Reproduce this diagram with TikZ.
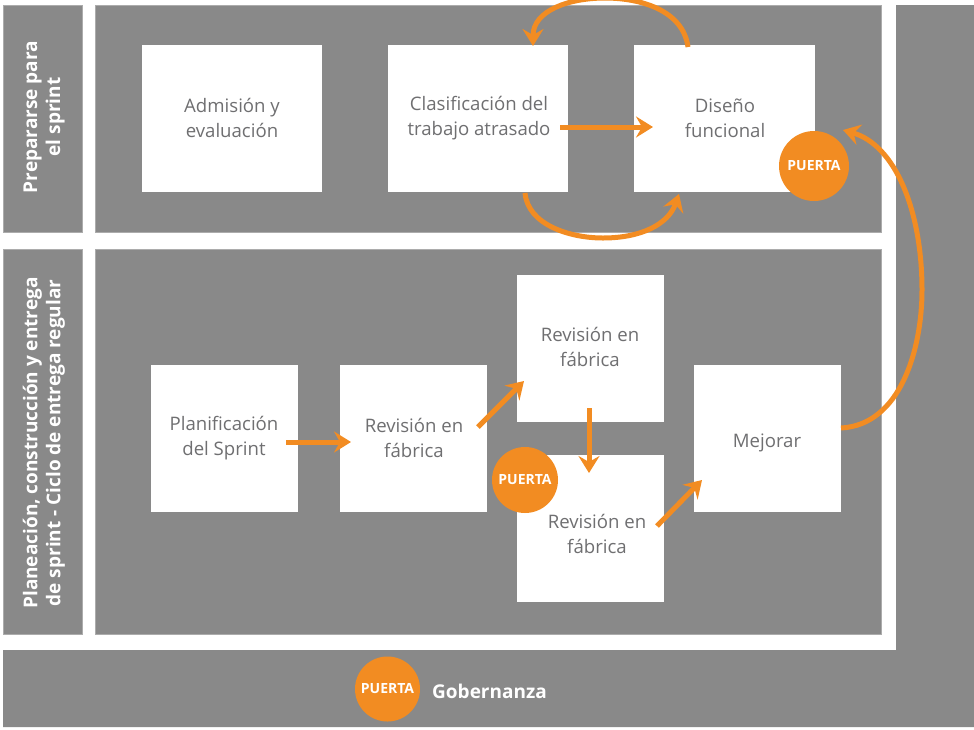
\documentclass[tikz,border=0pt]{standalone}
\usepackage{fontspec}
\setmainfont{Open Sans}
\usetikzlibrary{arrows.meta}
\definecolor{panel}{HTML}{898989}
\definecolor{ora}{HTML}{F28C22}
\definecolor{ink}{HTML}{6F6F71}
\tikzset{
  panelbox/.style={fill=panel,draw=panel!70!white,line width=0.6pt,inner sep=0pt,anchor=north west},
  wbox/.style={fill=white,inner sep=0pt,anchor=north west},
  txt/.style={text=ink,font=\fontsize{18.6}{25}\selectfont,align=center,inner sep=0pt},
  side/.style={text=white,font=\fontsize{19}{23}\selectfont\bfseries,align=center,inner sep=0pt,rotate=90},
  gate/.style={circle,fill=ora,text=white,inner sep=0pt,font=\fontsize{14}{16}\selectfont\bfseries},
  flow/.style={draw=ora,line width=5pt,-{Stealth[length=17pt,width=21pt,inset=6pt]}},
}
\begin{document}
\begin{tikzpicture}[x=1pt,y=-1pt]
\useasboundingbox (0,0) rectangle (974,729);
% background panels
\fill[panel] (896,5) -- (974,5) -- (974,727) -- (3,727) -- (3,650) -- (896,650) -- cycle;
\node[panelbox,minimum width=79pt,minimum height=227pt] (sideA) at (3,5) {};
\node[panelbox,minimum width=786pt,minimum height=227pt] (mainA) at (95,5) {};
\node[panelbox,minimum width=79pt,minimum height=385pt] (sideB) at (3,249) {};
\node[panelbox,minimum width=786pt,minimum height=385pt] (mainB) at (95,249) {};
\node[side] (sideAt) at (44,117) {Prepararse para\\el sprint};
\node[side] (sideBt) at (44,443) {Planeación, construcción y entrega\\de sprint - Ciclo de entrega regular};
% boxes
\node[wbox,minimum width=180pt,minimum height=147pt] (adm) at (142,45) {};
\node[wbox,minimum width=180pt,minimum height=147pt] (cla) at (388,45) {};
\node[wbox,minimum width=181pt,minimum height=147pt] (dis) at (634,45) {};
\node[wbox,minimum width=147pt,minimum height=147pt] (pla) at (151,365) {};
\node[wbox,minimum width=147pt,minimum height=147pt] (rev) at (340,365) {};
\node[wbox,minimum width=147pt,minimum height=147pt] (revb) at (517,275) {};
\node[wbox,minimum width=147pt,minimum height=147pt] (revc) at (517,455) {};
\node[wbox,minimum width=147pt,minimum height=147pt] (mej) at (694,365) {};
% texts
\node[txt] (admt) at (232,118) {Admisión y\\evaluación};
\node[txt] (clat) at (479,118) {Clasificación del\\trabajo atrasado};
\node[txt] (dist) at (725,118) {Diseño\\funcional};
\node[txt] (plat) at (224,438) {Planificación\\del Sprint};
\node[txt] (revt) at (414,438) {Revisión en\\fábrica};
\node[txt] (revbt) at (590,347) {Revisión en\\fábrica};
\node[txt] (revct) at (597,534) {Revisión en\\fábrica};
\node[txt] (mejt) at (767,443) {Mejorar};
% connector ends
\coordinate (a1) at (560,127); \coordinate (a2) at (653,127);
\coordinate (b1) at (286,442); \coordinate (b2) at (351,442);
\coordinate (c1) at (478,427); \coordinate (c2) at (524,381);
\coordinate (d1) at (589,408); \coordinate (d2) at (589,473);
\coordinate (e1) at (657,526); \coordinate (e2) at (702,480);
\coordinate (f1) at (688,47); \coordinate (f2) at (533,46);
\coordinate (g1) at (525,193); \coordinate (g2) at (679,194);
\coordinate (h1) at (841,428); \coordinate (h2) at (843,130);
% connectors
\draw[flow] (a1) -- (a2);
\draw[flow] (b1) -- (b2);
\draw[flow] (c1) -- (c2);
\draw[flow] (d1) -- (d2);
\draw[flow] (e1) -- (e2);
\draw[flow] (f1) .. controls (683,10) and (640,-2) .. (605,-2) .. controls (570,-2) and (533,10) .. (f2);
\draw[flow] (g1) .. controls (528,225) and (570,238) .. (603,238) .. controls (640,238) and (668,225) .. (g2);
\draw[flow] (h1) .. controls (900,425) and (922,350) .. (922,290) .. controls (922,210) and (895,145) .. (h2);
% gates
\node[gate,minimum size=70pt] (g-a) at (814,166) {PUERTA};
\node[gate,minimum size=66pt] (g-b) at (525,480) {PUERTA};
\node[gate,minimum width=65pt,minimum height=65pt] (g-c) at (387.5,689) {PUERTA};
\node[text=white,font=\fontsize{19}{22}\selectfont\bfseries,anchor=west,inner sep=0pt] (gob) at (432,691) {Gobernanza};
\end{tikzpicture}
\end{document}
